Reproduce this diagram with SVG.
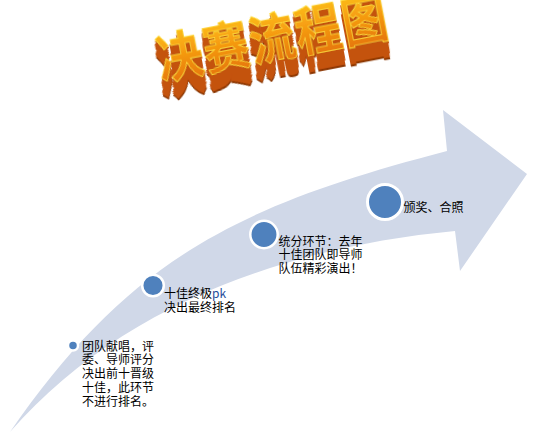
<svg xmlns="http://www.w3.org/2000/svg" width="539" height="435" viewBox="0 0 539 435">
  <style>
    .lbl { font-family: "Noto Sans CJK SC", "Liberation Sans", sans-serif; font-size: 12px; fill: #000; }
    .dot { fill: #4f81bd; stroke: #ffffff; }
    .ttl { font-family: "Noto Sans CJK SC", sans-serif; font-size: 46px; font-weight: bold; letter-spacing: 1px; }
  </style>
  <defs>
    <linearGradient id="face" x1="0" y1="0" x2="0" y2="1">
      <stop offset="0" stop-color="#ffd21a"/>
      <stop offset="0.45" stop-color="#f7a012"/>
      <stop offset="1" stop-color="#e06a08"/>
    </linearGradient>
    <filter id="extrude" x="-20%" y="-50%" width="140%" height="220%">
      <feOffset in="SourceAlpha" dx="-0.3" dy="2" result="o1"/>
      <feOffset in="SourceAlpha" dx="-0.6" dy="4" result="o2"/>
      <feOffset in="SourceAlpha" dx="-0.9" dy="6" result="o3"/>
      <feOffset in="SourceAlpha" dx="-1.2" dy="8" result="o4"/>
      <feOffset in="SourceAlpha" dx="-1.5" dy="10" result="o5"/>
      <feOffset in="SourceAlpha" dx="-1.8" dy="12" result="o6"/>
      <feOffset in="SourceAlpha" dx="-2.1" dy="14" result="o7"/>
      <feMerge result="deep">
        <feMergeNode in="o1"/><feMergeNode in="o2"/><feMergeNode in="o3"/>
        <feMergeNode in="o4"/><feMergeNode in="o5"/><feMergeNode in="o6"/><feMergeNode in="o7"/>
      </feMerge>
      <feFlood flood-color="#c4520a"/>
      <feComposite operator="in" in2="deep" result="side"/>
      <feOffset in="SourceAlpha" dx="-2.4" dy="15.5" result="o8"/>
      <feFlood flood-color="#8a3404"/>
      <feComposite operator="in" in2="o8" result="bottom"/>
      <feMerge>
        <feMergeNode in="bottom"/>
        <feMergeNode in="side"/>
        <feMergeNode in="SourceGraphic"/>
      </feMerge>
    </filter>
  </defs>
  <rect width="539" height="435" fill="#ffffff"/>

  <g id="title" transform="translate(161 80) rotate(-11) scale(1 1.15)">
    <text class="ttl" x="0" y="0" fill="url(#face)" stroke="#ffe040" stroke-width="0.6" filter="url(#extrude)">决赛流程图</text>
  </g>

  <g id="connectors">
    <path id="arrow" d="M 10,432 C 130,258 240,205 447,151 L 443,110 L 527,174 L 460,271 L 455,231 C 286,247 120,306 10,432 Z" fill="#d0d8e8"/>
  </g>

  <g id="node1">
    <circle class="dot" cx="73" cy="345.5" r="5" stroke-width="2.5"/>
    <text class="lbl" y="350.5">
      <tspan x="82">团队献唱，评</tspan>
      <tspan x="82" dy="13.8">委、导师评分</tspan>
      <tspan x="82" dy="13.8">决出前十晋级</tspan>
      <tspan x="82" dy="13.8">十佳，此环节</tspan>
      <tspan x="82" dy="13.8">不进行排名。</tspan>
    </text>
  </g>

  <g id="node2">
    <circle class="dot" cx="153" cy="285.5" r="10.8" stroke-width="2.5"/>
    <text class="lbl" y="298">
      <tspan x="164">十佳终极</tspan><tspan fill="#1f4e9a">pk</tspan>
      <tspan x="164" dy="13.8">决出最终排名</tspan>
    </text>
  </g>

  <g id="node3">
    <circle class="dot" cx="264" cy="234.5" r="13.7" stroke-width="2.5"/>
    <text class="lbl" y="245.5">
      <tspan x="278.5">统分环节：去年</tspan>
      <tspan x="278.5" dy="13.8">十佳团队即导师</tspan>
      <tspan x="278.5" dy="13.8">队伍精彩演出！</tspan>
    </text>
  </g>

  <g id="node4">
    <circle class="dot" cx="385" cy="202" r="17.5" stroke-width="3"/>
    <text class="lbl" x="403.5" y="212">颁奖、合照</text>
  </g>
</svg>
